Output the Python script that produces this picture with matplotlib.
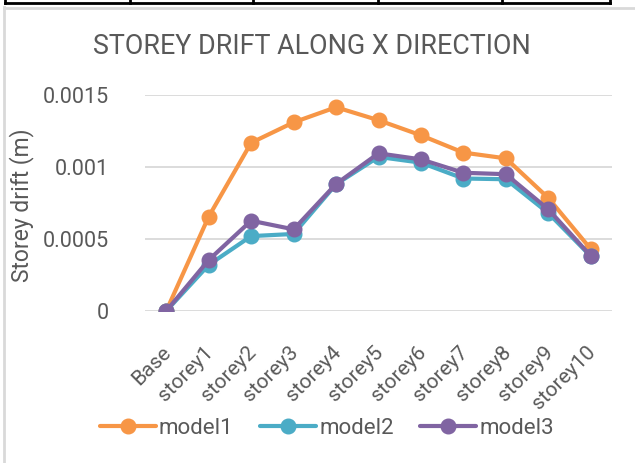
import numpy as np
import matplotlib
matplotlib.use("Agg")
import matplotlib.pyplot as plt
from matplotlib.lines import Line2D
import matplotlib.transforms as mtransforms

# data
floors = ['Base', 'storey1', 'storey2', 'storey3', 'storey4', 'storey5',
          'storey6', 'storey7', 'storey8', 'storey9', 'storey10']
model1 = [0, 0.000655, 0.001168, 0.00131, 0.001415, 0.001325, 0.00122,
          0.0011, 0.00106, 0.000785, 0.00043]
model2 = [0, 0.00032, 0.00052, 0.000535, 0.00088, 0.00107, 0.00103,
          0.00092, 0.000915, 0.00068, 0.00038]
model3 = [0, 0.000354, 0.000627, 0.000567, 0.000882, 0.001095, 0.001053,
          0.00096, 0.00095, 0.000706, 0.000382]
yticks = [0, 0.0005, 0.001, 0.0015]
ytick_labels = ['0', '0.0005', '0.001', '0.0015']

colors = ['#F79646', '#4BACC6', '#8064A2']
txt = '#595959'

plt.rcParams['font.family'] = ['Roboto', 'DejaVu Sans']

W, H = 635, 463
fig = plt.figure(figsize=(W / 100, H / 100), dpi=100)
ax = fig.add_axes([145 / W, 1 - 311 / H, (612 - 145) / W, (311 - 95) / H])

x = np.arange(len(floors))
for vals, c, lab in zip([model1, model2, model3], colors, ['model1', 'model2', 'model3']):
    ax.plot(x, vals, color=c, lw=3, marker='o', ms=10.5, label=lab, solid_capstyle='round')

ax.set_xlim(-0.5, len(floors) - 0.5)
ax.set_ylim(0, 0.0015)
ax.set_yticks(yticks)
ax.set_yticklabels(ytick_labels, fontsize=15.5, color=txt)
ax.yaxis.grid(True, color='#d9d9d9', lw=1.3)
ax.set_axisbelow(True)
for s in ax.spines.values():
    s.set_visible(False)
ax.tick_params(axis='both', length=0)
ax.tick_params(axis='y', pad=26)

ax.set_xticks(x)
ax.set_xticklabels(floors, rotation=45, ha='right', va='center',
                   rotation_mode='anchor', fontsize=15, color=txt)
ax.tick_params(axis='x', pad=0)
off = mtransforms.ScaledTranslation(2 / 100, -38 / 100, fig.dpi_scale_trans)
for t in ax.get_xticklabels():
    t.set_transform(t.get_transform() + off)

ax.set_ylabel('Storey drift (m)', fontsize=16.5, color=txt)
ax.yaxis.set_label_coords(-(145 - 34) / (612 - 145), 0.49)

fig.text(312 / W, 1 - 46 / H, 'STOREY DRIFT ALONG X DIRECTION', ha='center', va='center',
         fontsize=19.4, color=txt)

leg = fig.legend(loc='center', bbox_to_anchor=(327 / W, 1 - 428 / H), ncol=3, frameon=False,
                 fontsize=16, handlelength=2.5, handletextpad=0.15, columnspacing=1.2,
                 labelcolor=txt)

# surrounding page decorations: table edge and chart frame
def px_line(xs, ys, color, lw):
    fig.add_artist(Line2D([v / W for v in xs], [1 - v / H for v in ys], color=color, lw=lw,
                          transform=fig.transFigure))

px_line([4, 4], [7, 463], '#d9d9d9', 2)
px_line([4, 635], [7.5, 7.5], '#d9d9d9', 2)
px_line([5, 610], [2.5, 2.5], 'black', 2)
for xv in [5, 130, 253, 378, 502, 610]:
    px_line([xv, xv], [0, 3], 'black', 2)

fig.savefig('out.png', dpi=100)
